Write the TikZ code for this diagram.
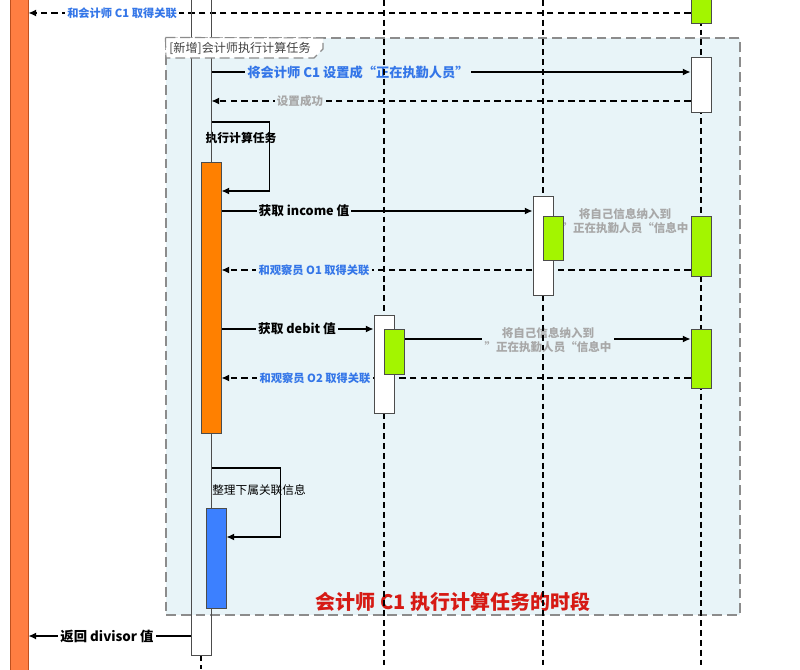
\documentclass[tikz,border=0pt]{standalone}
\usepackage{fontspec}
\setmainfont{Noto Sans CJK SC}
\usetikzlibrary{arrows.meta,fit,positioning}
\definecolor{cbar}{RGB}{255,126,66}
\definecolor{cbaredge}{RGB}{190,80,30}
\definecolor{cwork}{RGB}{255,128,0}
\definecolor{cgreen}{RGB}{163,245,0}
\definecolor{csort}{RGB}{60,128,255}
\definecolor{cmsg}{RGB}{52,118,232}
\definecolor{cgrey}{RGB}{168,168,168}
\definecolor{cfrag}{RGB}{232,244,248}
\definecolor{cred}{RGB}{214,26,20}
\pgfdeclarelayer{back}
\pgfdeclarelayer{wires}
\pgfsetlayers{back,wires,main}

\begin{document}
\begin{tikzpicture}[x=0.025cm,y={(0cm,-0.025cm)},
  box/.style={draw=black!70,line width=0.7pt,inner sep=0pt,fill=white},
  life/.style={black,line width=1pt,dash pattern=on 4.2pt off 2.8pt},
  call/.style={black,line width=0.9pt,-{Latex[length=5.5pt,width=5pt]}},
  reply/.style={call,dash pattern=on 4.5pt off 3pt},
  fragline/.style={draw=black!45,line width=0.8pt,dash pattern=on 7pt off 3.5pt},
  bluelbl/.style={text=cmsg,font=\bfseries\fontsize{8}{9}\selectfont,fill=cfrag,inner sep=1.5pt},
  greylbl/.style={text=cgrey,font=\bfseries\fontsize{8.2}{9.6}\selectfont,fill=cfrag,inner sep=1.5pt,align=center},
  blacklbl/.style={text=black,font=\bfseries\fontsize{9}{10}\selectfont,fill=cfrag,inner sep=1.5pt},
  selflbl/.style={text=black,font=\fontsize{8.3}{9.5}\selectfont,inner sep=1pt}]

\clip (0,0) rectangle (800,669);

% ---- activation boxes ----
\node[fill=cbar,draw=cbaredge,line width=0.6pt,inner sep=0pt,fit={(10,-10) (28,680)}] (acct) {};
\node[box,fill=none,fit={(191,-10) (211,655)}] (ctl) {};
\node[box,fill=cwork,fit={(201,162) (221,433)}] (work) {};
\node[box,fill=csort,fit={(206,508) (226,608)}] (sort) {};
\node[box,fit={(374,315) (394,413)}] (obsB) {};
\node[box,fill=cgreen,fit={(384,329) (404,374)}] (obsBin) {};
\node[box,fit={(533,196) (553,295)}] (obsA) {};
\node[box,fill=cgreen,fit={(543,216) (563,260)}] (obsAin) {};
\node[box,fill=cgreen,fit={(691,-10) (711,23)}] (regTop) {};
\node[box,fit={(691,57) (711,112)}] (regSet) {};
\node[box,fill=cgreen,fit={(691,216) (711,276)}] (regA) {};
\node[box,fill=cgreen,fit={(691,329) (711,388)}] (regB) {};

% ---- combined fragment ----
\begin{pgfonlayer}{back}
  \fill[white] (0,0) rectangle (800,669);
  \node[fill=cfrag,fragline,inner sep=0pt,fit={(166,38) (740,615)}] (period) {};
  \node[text=cred,font=\bfseries\fontsize{14.2}{16}\selectfont] (periodnote) at (453,602) {会计师 C1 执行计算任务的时段};
\end{pgfonlayer}
\draw[fill=white,fragline]
      (period.north west) -- (323,38) -- (323,49) -- (314,58) -- (166,58) -- cycle;
\node[text=black!75,font=\fontsize{8.6}{10}\selectfont] (periodtag) at (240,48) {[新增]会计师执行计算任务};

\begin{pgfonlayer}{wires}
  % messages
  \draw[reply] (regTop.west |- 0,13) -- (acct.east |- 0,13);
  \node[bluelbl,fill=white] (m1) at (122,13) {和会计师 C1 取得关联};

  \draw[call] (ctl.east |- 0,72) -- (regSet.west |- 0,72);
  \node[bluelbl,font=\bfseries\fontsize{9.4}{11}\selectfont] (m2) at (358,72) {将会计师 C1 设置成“正在执勤人员”};

  \draw[reply] (regSet.west |- 0,101) -- (ctl.east |- 0,101);
  \node[greylbl] (m3) at (300,101) {设置成功};

  \draw[call] (ctl.east |- 0,122) -- ++(58,0) |- (work.east |- 0,191);
  \node[selflbl,font=\bfseries\fontsize{8.4}{9.5}\selectfont] (m4) at (241,138) {执行计算任务};

  \draw[call] (work.east |- 0,211) -- (obsA.west |- 0,211);
  \node[blacklbl] (m5) at (304,211) {获取 income 值};

  \draw[call] (obsAin.east |- 0,220) -- (regA.west |- 0,220);
  \node[greylbl] (m6) at (625,221) {将自己信息纳入到\\”正在执勤人员“信息中};

  \draw[reply] (regA.west |- 0,270) -- (work.east |- 0,270);
  \node[bluelbl] (m7) at (314,270) {和观察员 O1 取得关联};

  \draw[call] (work.east |- 0,329) -- (obsB.west |- 0,329);
  \node[blacklbl] (m8) at (297,329) {获取 debit 值};

  \draw[call] (obsBin.east |- 0,339) -- (regB.west |- 0,339);
  \node[greylbl] (m9) at (548,340) {将自己信息纳入到\\”正在执勤人员“信息中};

  \draw[reply] (regB.west |- 0,378) -- (work.east |- 0,378);
  \node[bluelbl] (m10) at (315,378) {和观察员 O2 取得关联};

  \draw[call] (ctl.east |- 0,468) -- ++(69,0) |- (sort.east |- 0,537);
  \node[selflbl] (m11) at (259,490) {整理下属关联信息};

  \draw[call] (ctl.west |- 0,636) -- (acct.east |- 0,636);
  \node[blacklbl,fill=white,font=\bfseries\fontsize{9.5}{11}\selectfont] (m12) at (107,636) {返回 divisor 值};

  % lifelines
  \draw[life] (ctl.south) -- (ctl.south |- 0,669);
  \draw[life] (obsB.center |- 0,0) -- (obsB.center |- 0,669);
  \draw[life] (obsA.center |- 0,0) -- (obsA.center |- 0,669);
  \draw[life] (regSet.center |- 0,0) -- (regSet.center |- 0,669);
\end{pgfonlayer}
\end{tikzpicture}
\end{document}
